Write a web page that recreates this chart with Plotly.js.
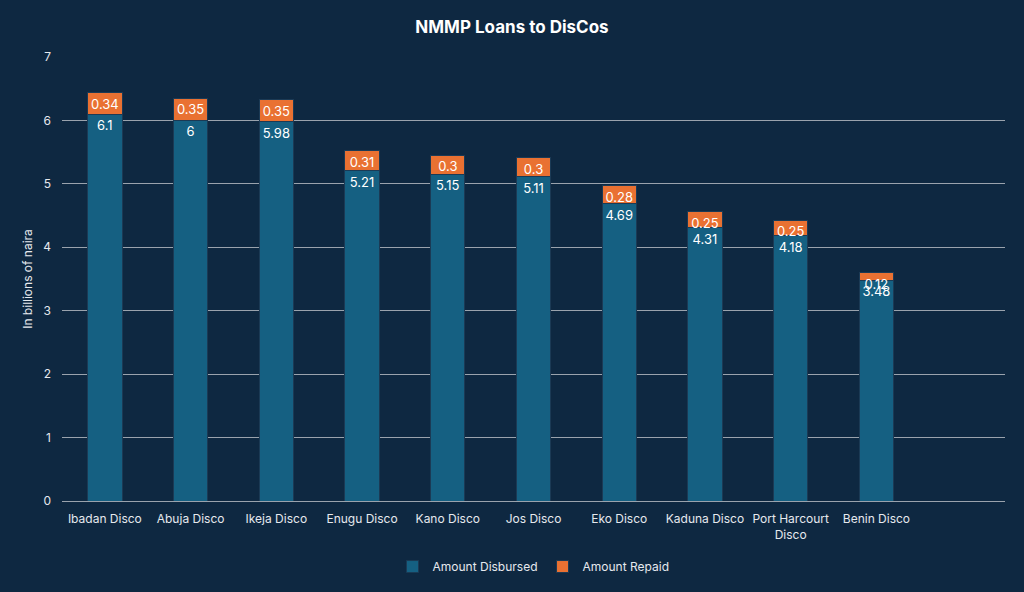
<!DOCTYPE html>
<html>
<head>
<meta charset="utf-8">
<script src="https://cdn.plot.ly/plotly-3.0.1.min.js"></script>
<style>
  html, body { margin: 0; padding: 0; background: #ffffff; }
  #chart { width: 1024px; height: 592px; }
</style>
</head>
<body>
<div id="chart"></div>
<script>
// DisCos, in the order shown
var discos = ['Ibadan Disco', 'Abuja Disco', 'Ikeja Disco', 'Enugu Disco', 'Kano Disco',
  'Jos Disco', 'Eko Disco', 'Kaduna Disco', 'Port Harcourt<br>Disco', 'Benin Disco'];

/* In billions of naira */
var disbursed = [6.1, 6, 5.98, 5.21, 5.15, 5.11, 4.69, 4.31, 4.18, 3.48];
var repaid = [0.34, 0.35, 0.35, 0.31, 0.3, 0.3, 0.28, 0.25, 0.25, 0.12];

var trace1 = {
  x: discos,
  y: disbursed,
  name: 'Amount Disbursed',
  type: 'bar',
  text: disbursed.map(String),
  textposition: 'inside',
  insidetextanchor: 'end',
  textangle: 0,
  textfont: {color: '#ffffff', size: 13},
  marker: {color: '#156082', line: {color: '#1b3a55', width: 1}}
};

var trace2 = {
  x: discos,
  y: repaid,
  name: 'Amount Repaid',
  type: 'bar',
  text: repaid.map(String),
  textposition: 'inside',
  insidetextanchor: 'end',
  textangle: 0,
  textfont: {color: '#ffffff', size: 13},
  marker: {color: '#E97132', line: {color: '#1b3a55', width: 1}}
};

var layout = {
  width: 1024,
  height: 592,
  barmode: 'stack',
  bargap: 0.6,
  paper_bgcolor: '#0E2841',
  plot_bgcolor: '#0E2841',
  font: {family: 'Inter, Roboto, sans-serif', color: '#e6e9ee', size: 12},
  uniformtext: {mode: 'show', minsize: 13},
  margin: {l: 62, r: 19, t: 57, b: 90},
  title: {
    text: '<b>NMMP Loans to DisCos</b>',
    font: {size: 17, color: '#ffffff'},
    x: 0.5, xanchor: 'center', y: 0.955, yanchor: 'middle'
  },
  xaxis: {
    type: 'category',
    range: [-0.5, 10.5],
    showgrid: false,
    showline: false,
    ticks: '',
    ticklabelstandoff: 9,
    tickfont: {size: 12, color: '#e6e9ee'}
  },
  yaxis: {
    range: [0, 7],
    dtick: 1,
    showgrid: true,
    gridcolor: '#9aa3ad',
    gridwidth: 1,
    zeroline: true,
    zerolinecolor: '#9aa3ad',
    zerolinewidth: 1,
    showline: false,
    ticks: '',
    ticklen: 0,
    ticklabelstandoff: 10,
    tickfont: {size: 12, color: '#e6e9ee'},
    title: {text: 'In billions of naira', font: {size: 12, color: '#e6e9ee'}, standoff: 8}
  },
  showlegend: true,
  legend: {
    orientation: 'h',
    x: 0.5, xanchor: 'center',
    y: -0.145, yanchor: 'middle',
    font: {size: 12, color: '#e6e9ee'},
    traceorder: 'normal',
    itemwidth: 30
  }
};

Plotly.newPlot('chart', [trace1, trace2], layout, {displayModeBar: false});
</script>
</body>
</html>
